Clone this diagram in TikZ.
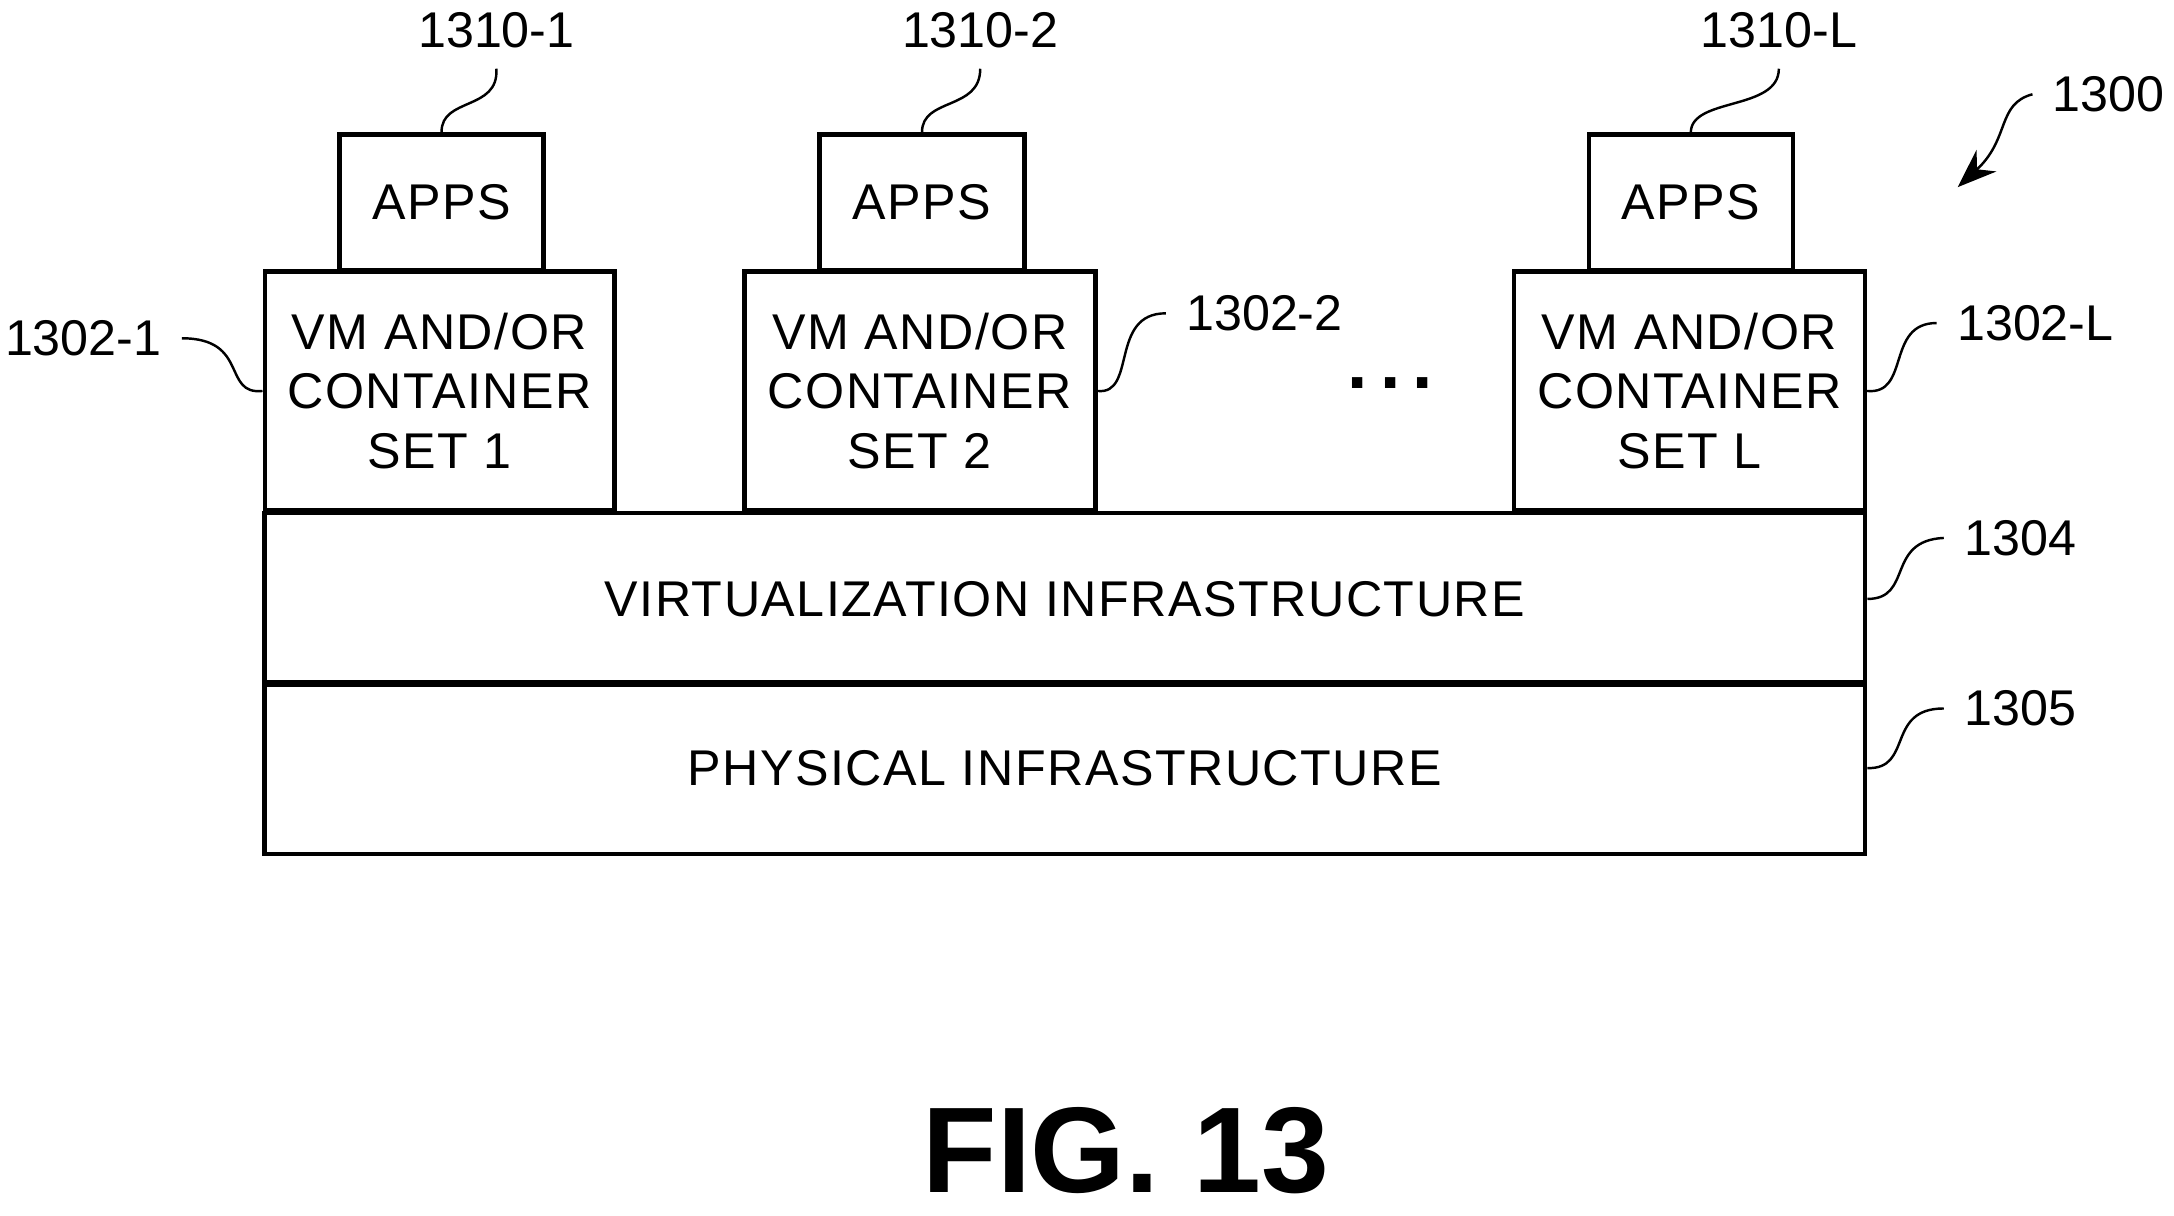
\documentclass[tikz,border=0pt]{standalone}
\usepackage{fontspec}
\setmainfont{Liberation Sans}
\usetikzlibrary{positioning,arrows.meta}
\tikzset{
  box/.style={draw,line width=0.9pt,align=center,inner sep=0pt,font=\fontsize{10.3pt}{12.2pt}\selectfont\addfontfeature{LetterSpace=3}},
  lbl/.style={font=\fontsize{10.3pt}{12pt}\selectfont,inner sep=4pt},
  lead/.style={line width=0.5pt}
}
\begin{document}
\begin{tikzpicture}[x=0.01cm,y=-0.01cm]
  \useasboundingbox (0,0) rectangle (1568,877);
  % layers
  \node[box,minimum width=11.54cm,minimum height=1.24cm] (virt) at (768,432) {VIRTUALIZATION INFRASTRUCTURE};
  \node[box,minimum width=11.54cm,minimum height=1.24cm] (phys) at (768,554) {PHYSICAL INFRASTRUCTURE};
  % vm/container sets
  \node[box,minimum width=2.52cm,minimum height=1.72cm] (vm1) at (317,282) {VM AND/OR\\CONTAINER\\SET 1};
  \node[box,minimum width=2.53cm,minimum height=1.72cm] (vm2) at (663.5,282) {VM AND/OR\\CONTAINER\\SET 2};
  \node[box,minimum width=2.53cm,minimum height=1.72cm] (vmL) at (1218.5,282) {VM AND/OR\\CONTAINER\\SET L};
  % apps
  \node[box,minimum width=1.47cm,minimum height=0.98cm] (app1) at (318.5,146) {APPS};
  \node[box,minimum width=1.48cm,minimum height=0.98cm] (app2) at (665,146) {APPS};
  \node[box,minimum width=1.47cm,minimum height=0.98cm] (appL) at (1219.5,146) {APPS};
  \node[font=\fontsize{15pt}{15pt}\selectfont\bfseries] (dots) at (1003,276) {.\,.\,.};
  % reference numerals
  \node[lbl] (n1310a) at (358,22) {1310-1};
  \node[lbl] (n1310b) at (707,22) {1310-2};
  \node[lbl] (n1310L) at (1283,22) {1310-L};
  \node[lbl] (n1302a) at (60,244) {1302-1};
  \node[lbl] (n1302b) at (912,226) {1302-2};
  \node[lbl] (n1302L) at (1468,233) {1302-L};
  \node[lbl] (n1304) at (1457,388) {1304};
  \node[lbl] (n1305) at (1457,511) {1305};
  \node[lbl] (n1300) at (1521,68) {1300};
  % leaders
  \draw[lead] (app1.north) .. controls (318,70) and (360,80) .. (n1310a.south);
  \draw[lead] (app2.north) .. controls (665,70) and (707,80) .. (n1310b.south);
  \draw[lead] (appL.north) .. controls (1220,70) and (1283,80) .. (n1310L.south);
  \draw[lead] (n1302a.east) .. controls (180,244) and (160,285) .. (vm1.west);
  \draw[lead] (vm2.east) .. controls (820,285) and (800,226) .. (n1302b.west);
  \draw[lead] (vmL.east) .. controls (1378,285) and (1360,233) .. (n1302L.west);
  \draw[lead] (virt.east) .. controls (1380,432) and (1360,390) .. (n1304.west);
  \draw[lead] (phys.east) .. controls (1380,555) and (1360,511) .. (n1305.west);
  \draw[lead,-{Stealth[length=8pt,width=6pt]}] (n1300.west) .. controls (1440,75) and (1450,100) .. (1412,135);
  % caption
  \node[font=\fontsize{25pt}{25pt}\selectfont\bfseries] (fig) at (812,830) {FIG. 13};
\end{tikzpicture}
\end{document}
